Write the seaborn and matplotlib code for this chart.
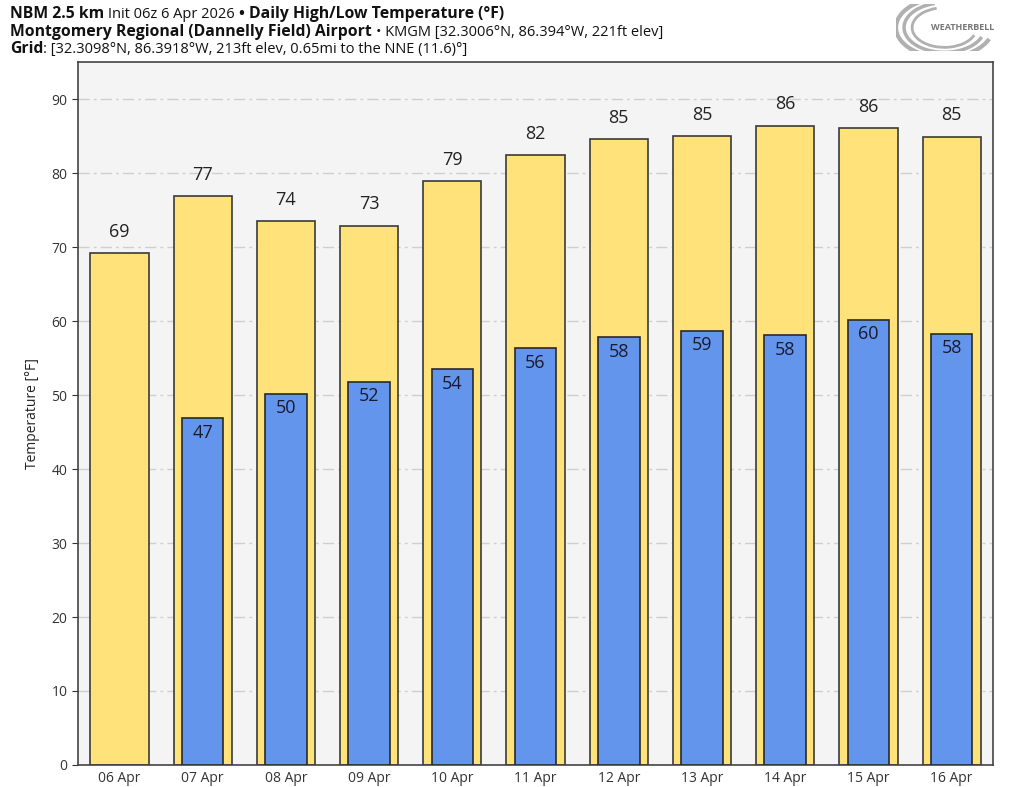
import matplotlib
matplotlib.use("Agg")
import matplotlib.pyplot as plt
from matplotlib.patches import Arc
import seaborn as sns
import pandas as pd
import numpy as np

days = ['06 Apr', '07 Apr', '08 Apr', '09 Apr', '10 Apr', '11 Apr',
        '12 Apr', '13 Apr', '14 Apr', '15 Apr', '16 Apr']
highs = [69.2, 76.9, 73.5, 72.9, 78.9, 82.4, 84.6, 85.0, 86.4, 86.1, 84.9]
lows = [np.nan, 46.9, 50.2, 51.8, 53.5, 56.3, 57.8, 58.7, 58.1, 60.2, 58.3]

sns.set_style("white")
plt.rcParams['font.family'] = ['Open Sans', 'DejaVu Sans']

df = pd.DataFrame({'day': days, 'high': highs, 'low': lows})

fig = plt.figure(figsize=(10.24, 7.87), dpi=100)
ax = fig.add_axes([0.076, 0.028, 0.894, 0.893])
ax.set_facecolor('#f4f4f4')

sns.barplot(data=df, x='day', y='high', order=days, color='#ffe27a',
            width=0.7, edgecolor='#3a3a3a', linewidth=1.2, saturation=1,
            ax=ax, zorder=2)
sns.barplot(data=df.dropna(), x='day', y='low', order=days, color='#6495ed',
            width=0.5, edgecolor='#2a2a2a', linewidth=1.2, saturation=1,
            ax=ax, zorder=3)

# value labels
for i, (h, l) in enumerate(zip(highs, lows)):
    ax.annotate(f"{round(h):d}", (i, h), xytext=(0, 9), textcoords='offset points',
                ha='center', va='bottom', fontsize=13, color='#222222', zorder=5)
    if not np.isnan(l):
        ax.annotate(f"{round(l):d}", (i, l), xytext=(0, -4), textcoords='offset points',
                    ha='center', va='top', fontsize=13, color='#1a1a2e', zorder=5)

ax.set_xlim(-0.5, 10.5)
ax.set_ylim(0, 95)
ax.set_yticks(range(0, 91, 10))
ax.yaxis.grid(True, color='#cfcfcf', linestyle=(0, (8, 3, 2, 3)), linewidth=1)
ax.set_axisbelow(True)
ax.set_xlabel('')
ax.set_ylabel('Temperature [°F]', fontsize=10, color='#222222', labelpad=8)
ax.tick_params(axis='y', labelsize=10, colors='#333333', length=4,
               direction='out', left=True)
ax.tick_params(axis='x', labelsize=10, colors='#333333', bottom=False, pad=1)
for s in ax.spines.values():
    s.set_color('#444444')
    s.set_linewidth(1.2)

# title lines with mixed weights
SIZES = {'bold': 11.3, 'normal': 10.5}


def rich_line(y, parts):
    prev = None
    for txt, weight in parts:
        if prev is None:
            prev = fig.text(0.0098, y, txt, fontsize=SIZES[weight], fontweight=weight,
                            color='#111111', va='baseline', ha='left')
        else:
            prev = fig.add_artist(matplotlib.text.Annotation(
                txt, xy=(1, 0), xycoords=prev, va='bottom', ha='left',
                fontsize=SIZES[weight], fontweight=weight, color='#111111'))


rich_line(1 - 18 / 787, [('NBM 2.5 km ', 'bold'), ('Init 06z 6 Apr 2026 ', 'normal'),
                         ('• Daily High/Low Temperature (°F)', 'bold')])
rich_line(1 - 36 / 787, [('Montgomery Regional (Dannelly Field) Airport ', 'bold'),
                         ('• KMGM [32.3006°N, 86.394°W, 221ft elev]', 'normal')])
rich_line(1 - 53 / 787, [('Grid', 'bold'),
                         (': [32.3098°N, 86.3918°W, 213ft elev, 0.65mi to the NNE (11.6)°]', 'normal')])

# logo
lax = fig.add_axes([0.875, 0.935, 0.105, 0.06])
lax.set_xlim(0, 1)
lax.set_ylim(0, 1)
lax.axis('off')
for w, lw in [(0.9, 3), (0.75, 2.5), (0.6, 2)]:
    lax.add_patch(Arc((0.45, 0.5), w, w * 1.4, theta1=100, theta2=330,
                      color='#b0b0b0', lw=lw))
lax.text(0.62, 0.5, 'WEATHERBELL', fontsize=6.5, fontweight='bold',
         color='#777777', ha='center', va='center')

fig.savefig('out.png', dpi=100)
